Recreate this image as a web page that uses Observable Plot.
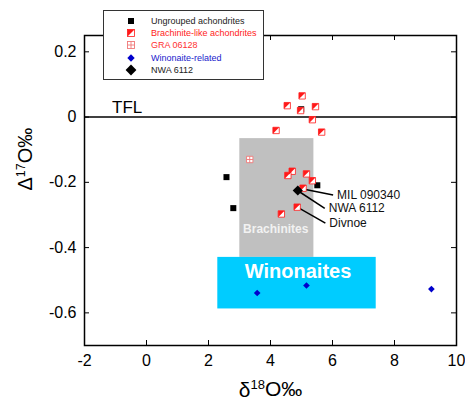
<!DOCTYPE html>
<html><head><meta charset="utf-8">
<script src="https://cdn.jsdelivr.net/npm/d3@7"></script>
<script src="https://cdn.jsdelivr.net/npm/@observablehq/plot@0.6"></script>
<style>
body{margin:0;overflow:hidden;background:#fff;font-family:"Liberation Sans",Arial,sans-serif}
#wrap{position:relative;width:465px;height:400px;overflow:hidden}
#legend{position:absolute;left:103px;top:10px;width:161px;height:70px;border:1px solid #333;background:#fff;font-size:9px;box-sizing:border-box}
.row{position:absolute;left:0;height:12px;line-height:12px;width:158px}
.row svg{position:absolute;left:21px;top:0}
.row span{position:absolute;left:47px;top:0;white-space:nowrap}
</style></head>
<body><div id="wrap"><div id="legend"></div></div>
<script>
// ---- data ----
const xTicks = [-2, 0, 2, 4, 6, 8, 10];
const yTicks = [0.2, 0, -0.2, -0.4, -0.6];

const ungroupedX = [2.58, 2.80, 5.51, 4.99];
const ungroupedY = [-0.184, -0.279, -0.209, 0.024];

const brachLikeX = [5.02, 4.54, 4.97, 5.45, 5.35, 4.18, 5.65, 4.70, 4.56, 5.16, 5.35, 5.05, 4.86, 4.35];
const brachLikeY = [0.065, 0.035, 0.020, 0.032, -0.008, -0.041, -0.046, -0.166, -0.179, -0.174, -0.195, -0.218, -0.276, -0.297];

const graX = [3.33];
const graY = [-0.130];

const winoX = [3.57, 5.16, 9.19];
const winoY = [-0.539, -0.516, -0.527];

const nwaX = [4.88];
const nwaY = [-0.225];

const regionNames = ["Brachinites", "Winonaites"];
const regionX1 = [3.01, 2.30];
const regionX2 = [5.40, 7.41];
const regionY1 = [-0.430, -0.588];
const regionY2 = [-0.066, -0.430];
const regionLabelX = [4.17, 4.89];
const regionLabelY = [-0.344, -0.474];

const tflLabel = ["TFL"];
const tflX = [-1.11];
const tflY = [0.013];

const calloutNames = ["MIL 090340", "NWA 6112", "Divnoe"];
const calloutFromX = [5.13, 4.87, 4.88];
const calloutFromY = [-0.222, -0.225, -0.277];
const calloutToX = [6.02, 5.75, 5.77];
const calloutToY = [-0.239, -0.280, -0.325];

const legendLabels = ["Ungrouped achondrites", "Brachinite-like achondrites", "GRA 06128", "Winonaite-related", "NWA 6112"];

const xLabel = "δ18O‰";
const yLabel = "Δ17O‰";

// ---- tables ----
const pts = (xs, ys) => xs.map((x, i) => ({x, y: ys[i]}));
const ungrouped = pts(ungroupedX, ungroupedY);
const brachLike = pts(brachLikeX, brachLikeY);
const gra = pts(graX, graY);
const wino = pts(winoX, winoY);
const nwa = pts(nwaX, nwaY);
const regions = regionNames.map((name, i) => ({name, x1: regionX1[i], x2: regionX2[i], y1: regionY1[i], y2: regionY2[i], lx: regionLabelX[i], ly: regionLabelY[i]}));
const callouts = calloutNames.map((name, i) => ({name, x1: calloutFromX[i], y1: calloutFromY[i], x2: calloutToX[i], y2: calloutToY[i]}));
const tfl = tflLabel.map((t, i) => ({t, x: tflX[i], y: tflY[i]}));

const halfSquare = {draw(ctx, size) {const s = Math.sqrt(size) / 2; ctx.moveTo(-s, -s); ctx.lineTo(s, -s); ctx.lineTo(-s, s); ctx.closePath();}};
const gridCross = {draw(ctx, size) {const s = Math.sqrt(size) / 2; ctx.moveTo(-s, 0); ctx.lineTo(s, 0); ctx.moveTo(0, -s); ctx.lineTo(0, s);}};

const RED = "#ff1a1a", PINK = "#f07878", BLUE = "#0000cc", CYAN = "#00ccff", GRAY = "#c0c0c0";

const W = 465, H = 400, ML = 84, MR = 9, MT = 35, MB = 55, TICK = 5;
const innerW = W - ML - MR, innerH = H - MT - MB;

const chart = Plot.plot({
  width: W, height: H,
  marginLeft: ML, marginRight: MR, marginTop: MT, marginBottom: MB,
  style: {fontFamily: "'Liberation Sans', Arial, sans-serif", background: "white", overflow: "visible"},
  x: {domain: [-2, 10], axis: null},
  y: {domain: [-0.7, 0.25], axis: null},
  marks: [
    Plot.rect(regions.filter(d => d.name === "Brachinites"), {x1: "x1", x2: "x2", y1: "y1", y2: "y2", fill: GRAY}),
    Plot.rect(regions.filter(d => d.name === "Winonaites"), {x1: "x1", x2: "x2", y1: "y1", y2: "y2", fill: CYAN}),
    Plot.text(regions.filter(d => d.name === "Brachinites"), {x: "lx", y: "ly", text: "name", fill: "#f2f2f2", fontSize: 12, fontWeight: "bold"}),
    Plot.text(regions.filter(d => d.name === "Winonaites"), {x: "lx", y: "ly", text: "name", fill: "white", fontSize: 20, fontWeight: "bold"}),
    Plot.ruleY([0], {stroke: "black", strokeWidth: 1.5}),
    Plot.text(tfl, {x: "x", y: "y", text: "t", textAnchor: "start", lineAnchor: "bottom", fontSize: 17, fill: "black"}),
    Plot.link(callouts, {x1: "x1", y1: "y1", x2: "x2", y2: "y2", stroke: "black", strokeWidth: 1.5}),
    Plot.text(callouts, {x: "x2", y: "y2", text: "name", textAnchor: "start", dx: 4, fontSize: 12, fill: "#111"}),
    Plot.dot(ungrouped, {x: "x", y: "y", symbol: "square", r: 3.4, fill: "black"}),
    Plot.dot(brachLike, {x: "x", y: "y", symbol: "square", r: 3.6, fill: "white", stroke: RED, strokeWidth: 0.8}),
    Plot.dot(brachLike, {x: "x", y: "y", symbol: halfSquare, r: 3.6, fill: RED}),
    Plot.dot(gra, {x: "x", y: "y", symbol: "square", r: 3.6, fill: "white", stroke: PINK, strokeWidth: 0.9}),
    Plot.dot(gra, {x: "x", y: "y", symbol: gridCross, r: 3.6, fill: "none", stroke: PINK, strokeWidth: 0.9}),
    Plot.dot(wino, {x: "x", y: "y", symbol: "diamond2", r: 3, fill: BLUE}),
    Plot.dot(nwa, {x: "x", y: "y", symbol: "diamond2", r: 4.6, fill: "black"}),
    // inward tick marks on all four sides
    Plot.ruleX(xTicks, {x: d => d, insetTop: innerH - TICK, stroke: "black", strokeWidth: 1}),
    Plot.ruleX(xTicks, {x: d => d, insetBottom: innerH - TICK, stroke: "black", strokeWidth: 1}),
    Plot.ruleY(yTicks, {y: d => d, insetRight: innerW - TICK, stroke: "black", strokeWidth: 1}),
    Plot.ruleY(yTicks, {y: d => d, insetLeft: innerW - TICK, stroke: "black", strokeWidth: 1}),
    Plot.frame({stroke: "black", strokeWidth: 1.5}),
    Plot.axisX(xTicks, {anchor: "bottom", tickSize: 0, tickPadding: 9, fontSize: 16, tickFormat: d => String(d), label: null}),
    Plot.axisY(yTicks, {anchor: "left", tickSize: 0, tickPadding: 8, fontSize: 16, tickFormat: d => String(d), label: null}),
    Plot.text([xLabel], {frameAnchor: "bottom", dy: 51, lineAnchor: "bottom", text: d => d, fontSize: 21, className: "xlab"}),
    Plot.text([yLabel], {frameAnchor: "left", dx: -59, rotate: -90, text: d => d, fontSize: 20, className: "ylab"})
  ]
});
document.getElementById("wrap").prepend(chart);

// superscripts for axis labels
function supify(sel, base, sup, rest) {
  chart.querySelectorAll(sel + " text").forEach(t => {
    t.textContent = "";
    const NS = "http://www.w3.org/2000/svg";
    const a = document.createElementNS(NS, "tspan"); a.textContent = base; t.appendChild(a);
    const b = document.createElementNS(NS, "tspan"); b.textContent = sup; b.setAttribute("font-size", "0.62em"); b.setAttribute("dy", "-0.55em"); t.appendChild(b);
    const c = document.createElementNS(NS, "tspan"); c.textContent = rest; c.setAttribute("dy", "0.34em"); t.appendChild(c);
  });
}
supify(".xlab", xLabel.slice(0, 1), xLabel.slice(1, 3), xLabel.slice(3));
supify(".ylab", yLabel.slice(0, 1), yLabel.slice(1, 3), yLabel.slice(3));

// legend
const NSs = "http://www.w3.org/2000/svg";
const legendColors = ["#222", RED, "#ff3030", "#1a1acc", "#222"];
const rowTops = [4, 16.3, 27.5, 40.7, 53.3];
const legend = document.getElementById("legend");
legendLabels.forEach((lab, i) => {
  const row = document.createElement("div");
  row.className = "row";
  row.style.top = rowTops[i] + "px";
  const svg = document.createElementNS(NSs, "svg");
  svg.setAttribute("width", 12); svg.setAttribute("height", 12);
  let s = "";
  if (i === 0) s = `<rect x="3" y="3" width="6" height="6" fill="black"/>`;
  if (i === 1) s = `<rect x="2.5" y="2.5" width="7" height="7" fill="white" stroke="${RED}" stroke-width="0.8"/><path d="M2.5,2.5L9.5,2.5L2.5,9.5Z" fill="${RED}"/>`;
  if (i === 2) s = `<rect x="2.5" y="2.5" width="7" height="7" fill="white" stroke="${PINK}" stroke-width="0.9"/><path d="M2.5,6H9.5M6,2.5V9.5" stroke="${PINK}" stroke-width="0.9"/>`;
  if (i === 3) s = `<path d="M6,2.3L9.7,6L6,9.7L2.3,6Z" fill="${BLUE}"/>`;
  if (i === 4) s = `<path d="M6,0.6L11.4,6L6,11.4L0.6,6Z" fill="black"/>`;
  svg.innerHTML = s;
  row.appendChild(svg);
  const sp = document.createElement("span");
  sp.textContent = lab;
  sp.style.color = legendColors[i];
  row.appendChild(sp);
  legend.appendChild(row);
});
</script>
</body></html>
